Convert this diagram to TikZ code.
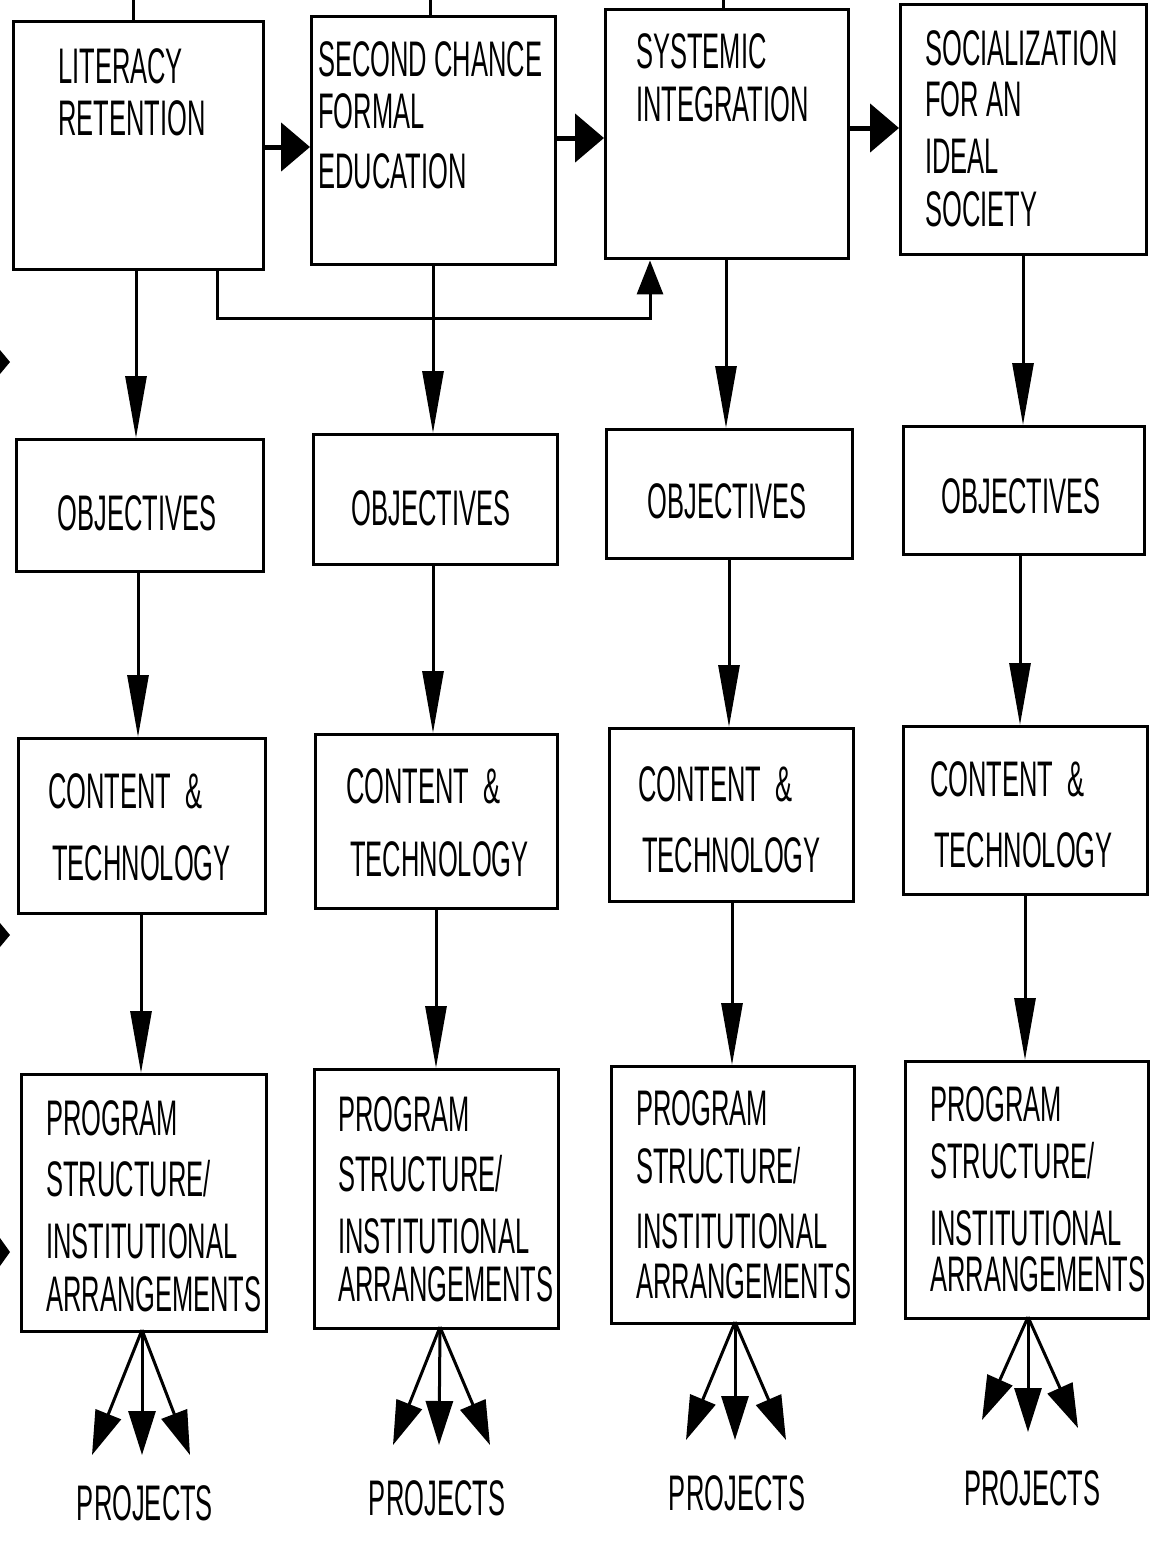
\documentclass[tikz,border=0pt]{standalone}
\usepackage{fontspec}
\setmainfont{Liberation Sans}[FakeStretch=0.51]
\usetikzlibrary{arrows.meta}
\tikzset{
  box/.style={draw, line width=3.4pt, anchor=north west, inner sep=0pt},
  lbl/.style={inner sep=0pt, font=\fontsize{50}{56}\selectfont},
  link/.style={line width=3pt},
  varrow/.style={line width=3pt, -{Triangle[length=62pt,width=21pt]}},
  harrow/.style={line width=5pt, -{Triangle[length=29pt,width=48pt]}},
  fbarrow/.style={line width=3pt, -{Triangle[length=34pt,width=26pt]}},
  parrow/.style={line width=3pt, -{Triangle[length=44pt,width=27pt]}},
}
\newcommand{\bx}[5]{\node[box, minimum width=#4-#2, minimum height=#5-#3] (#1) at (#2,#3) {};}
\begin{document}
\begin{tikzpicture}[x=1pt,y=-1pt]
\useasboundingbox (0,0) rectangle (1160,1543);
% ---------- row 1 ----------
\bx{b11}{12}{20}{262}{268}
\bx{b12}{310}{15}{554}{263}
\bx{b13}{604}{8}{847}{257}
\bx{b14}{899}{3}{1145}{253}
\node[lbl, anchor=base west] (t11a) at (58,83) {LITERACY};
\node[lbl, anchor=base west] (t11b) at (58,135) {RETENTION};
\node[lbl, anchor=base west] (t12a) at (318,76) {SECOND CHANCE};
\node[lbl, anchor=base west] (t12b) at (318,128) {FORMAL};
\node[lbl, anchor=base west] (t12c) at (318,188) {EDUCATION};
\node[lbl, anchor=base west] (t13a) at (636,68) {SYSTEMIC};
\node[lbl, anchor=base west] (t13b) at (636,121) {INTEGRATION};
\node[lbl, anchor=base west] (t14a) at (925,65) {SOCIALIZATION};
\node[lbl, anchor=base west] (t14b) at (925,116) {FOR AN};
\node[lbl, anchor=base west] (t14c) at (925,173) {IDEAL};
\node[lbl, anchor=base west] (t14d) at (925,226) {SOCIETY};
% lines leaving at the top
\coordinate (top1) at (133,0);
\coordinate (top2) at (430,0);
\coordinate (top3) at (723,0);
\draw[link] (b11.north -| top1) -- (top1);
\draw[link] (b12.north -| top2) -- (top2);
\draw[link] (b13.north -| top3) -- (top3);
% horizontal arrows
\coordinate (h1) at (262,147);
\coordinate (h2) at (554,138);
\coordinate (h3) at (847,128);
\draw[harrow] (h1) -- (h1 -| b12.west);
\draw[harrow] (h2) -- (h2 -| b13.west);
\draw[harrow] (h3) -- (h3 -| b14.west);
% feedback
\coordinate (fbA) at (217,318);
\coordinate (fbB) at (650,318);
\draw[fbarrow] (b11.south -| fbA) -- (fbA) -- (fbB) -- (b13.south -| fbB);
% ---------- row 2 ----------
\bx{b21}{15}{438}{262}{570}
\bx{b22}{312}{433}{556}{563}
\bx{b23}{605}{428}{851}{557}
\bx{b24}{902}{425}{1143}{553}
\node[lbl, anchor=base] (t21) at (137,530) {OBJECTIVES};
\node[lbl, anchor=base] (t22) at (431,525) {OBJECTIVES};
\node[lbl, anchor=base] (t23) at (727,518) {OBJECTIVES};
\node[lbl, anchor=base] (t24) at (1021,513) {OBJECTIVES};
% ---------- row 3 ----------
\bx{b31}{17}{737}{264}{912}
\bx{b32}{314}{733}{556}{907}
\bx{b33}{608}{727}{852}{900}
\bx{b34}{902}{725}{1146}{893}
\node[lbl, anchor=base west] (t31a) at (48,808) {CONTENT \ \&};
\node[lbl, anchor=base west] (t31b) at (52,880) {TECHNOLOGY};
\node[lbl, anchor=base west] (t32a) at (346,803) {CONTENT \ \&};
\node[lbl, anchor=base west] (t32b) at (350,876) {TECHNOLOGY};
\node[lbl, anchor=base west] (t33a) at (638,801) {CONTENT \ \&};
\node[lbl, anchor=base west] (t33b) at (642,872) {TECHNOLOGY};
\node[lbl, anchor=base west] (t34a) at (930,796) {CONTENT \ \&};
\node[lbl, anchor=base west] (t34b) at (934,867) {TECHNOLOGY};
% ---------- row 4 ----------
\bx{b41}{20}{1073}{265}{1330}
\bx{b42}{313}{1068}{557}{1327}
\bx{b43}{610}{1065}{853}{1322}
\bx{b44}{904}{1060}{1147}{1317}
\node[lbl, anchor=base west] (t41a) at (46,1135) {PROGRAM};
\node[lbl, anchor=base west] (t41b) at (46,1196) {STRUCTURE/};
\node[lbl, anchor=base west] (t41c) at (46,1258) {INSTITUTIONAL};
\node[lbl, anchor=base west] (t41d) at (46,1311) {ARRANGEMENTS};
\node[lbl, anchor=base west] (t42a) at (338,1131) {PROGRAM};
\node[lbl, anchor=base west] (t42b) at (338,1191) {STRUCTURE/};
\node[lbl, anchor=base west] (t42c) at (338,1253) {INSTITUTIONAL};
\node[lbl, anchor=base west] (t42d) at (338,1301) {ARRANGEMENTS};
\node[lbl, anchor=base west] (t43a) at (636,1125) {PROGRAM};
\node[lbl, anchor=base west] (t43b) at (636,1183) {STRUCTURE/};
\node[lbl, anchor=base west] (t43c) at (636,1248) {INSTITUTIONAL};
\node[lbl, anchor=base west] (t43d) at (636,1298) {ARRANGEMENTS};
\node[lbl, anchor=base west] (t44a) at (930,1121) {PROGRAM};
\node[lbl, anchor=base west] (t44b) at (930,1178) {STRUCTURE/};
\node[lbl, anchor=base west] (t44c) at (930,1245) {INSTITUTIONAL};
\node[lbl, anchor=base west] (t44d) at (930,1291) {ARRANGEMENTS};
% ---------- vertical arrows ----------
\foreach \c/\x in {1/136,2/433,3/726,4/1023}{
  \coordinate (va\c) at (\x,0);
  \draw[varrow] (b1\c.south -| va\c) -- (b2\c.north -| va\c);
}
\foreach \c/\x in {1/138,2/433,3/729,4/1020}{
  \coordinate (vb\c) at (\x,0);
  \draw[varrow] (b2\c.south -| vb\c) -- (b3\c.north -| vb\c);
}
\foreach \c/\x in {1/141,2/436,3/732,4/1025}{
  \coordinate (vc\c) at (\x,0);
  \draw[varrow] (b3\c.south -| vc\c) -- (b4\c.north -| vc\c);
}
% ---------- projects ----------
\coordinate (o1) at (142,1330); \coordinate (l1) at (92,1455); \coordinate (m1) at (142,1455); \coordinate (r1) at (190,1455);
\coordinate (o2) at (440,1327); \coordinate (l2) at (393,1445); \coordinate (m2) at (439,1445); \coordinate (r2) at (490,1445);
\coordinate (o3) at (735,1322); \coordinate (l3) at (686,1440); \coordinate (m3) at (735,1440); \coordinate (r3) at (786,1440);
\coordinate (o4) at (1028,1317); \coordinate (l4) at (982,1420); \coordinate (m4) at (1028,1432); \coordinate (r4) at (1078,1428);
\foreach \c in {1,2,3,4}{
  \draw[parrow] (o\c) -- (l\c);
  \draw[parrow] (o\c) -- (m\c);
  \draw[parrow] (o\c) -- (r\c);
}
\node[lbl] (p1) at (145,1503) {PROJECTS};
\node[lbl] (p2) at (437,1498) {PROJECTS};
\node[lbl] (p3) at (737,1493) {PROJECTS};
\node[lbl] (p4) at (1032,1488) {PROJECTS};
% ---------- cut-off arrowheads at the left edge ----------
\fill (0,350) -- (10,362) -- (0,374) -- cycle;
\fill (0,923) -- (10,935) -- (0,947) -- cycle;
\fill (0,1238) -- (10,1252) -- (0,1266) -- cycle;
\end{tikzpicture}
\end{document}
